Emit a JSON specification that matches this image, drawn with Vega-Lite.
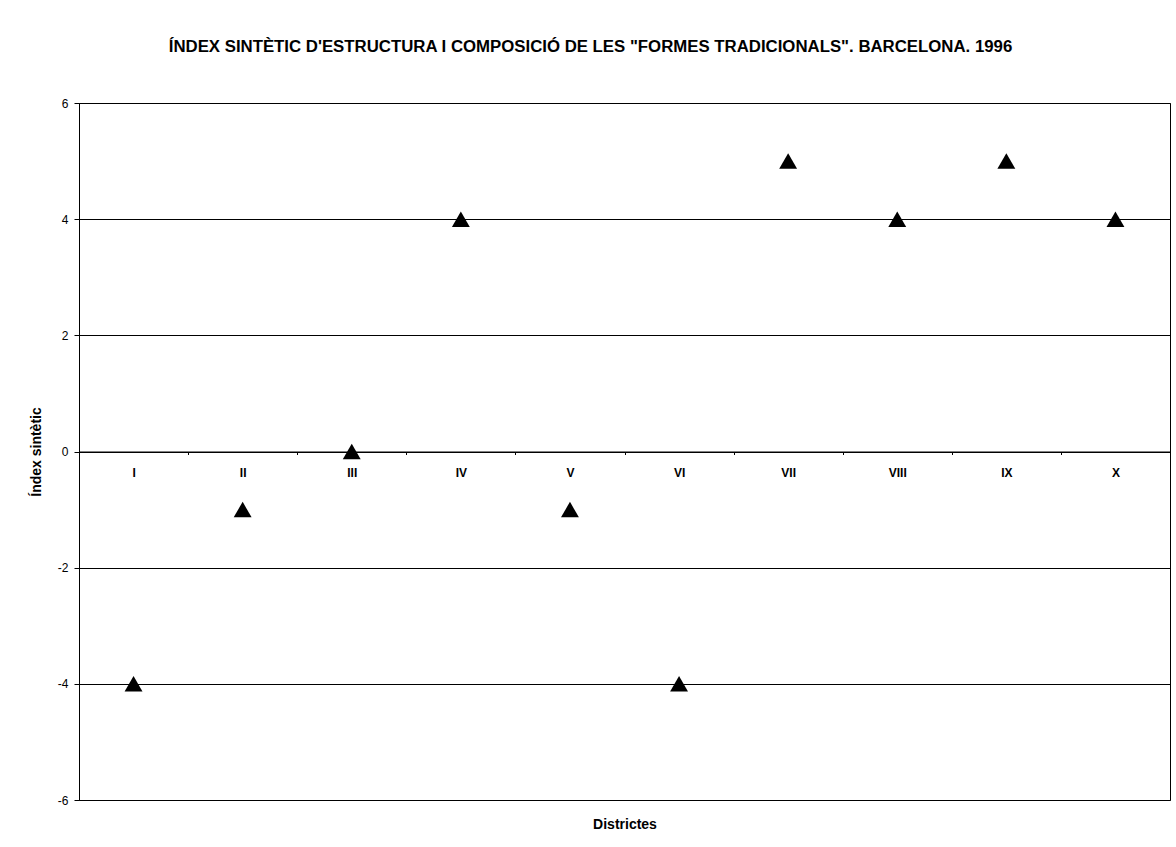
{
  "$schema": "https://vega.github.io/schema/vega-lite/v6.json",
  "autosize": {"type": "none"},
  "padding": {"left": 79, "top": 103, "right": 5, "bottom": 47},
  "width": 1091,
  "height": 697,
  "background": "white",
  "title": {
    "text": "ÍNDEX SINTÈTIC D'ESTRUCTURA I COMPOSICIÓ DE LES \"FORMES TRADICIONALS\". BARCELONA. 1996",
    "font": "Liberation Sans",
    "fontSize": 16.8,
    "fontWeight": "bold",
    "color": "black",
    "anchor": "middle",
    "frame": "group",
    "dx": -34,
    "offset": 41
  },
  "config": {
    "view": {"stroke": "black", "strokeWidth": 1},
    "axis": {"labelFont": "Liberation Sans", "titleFont": "Liberation Sans"}
  },
  "data": {
    "values": [
      {"district": "I", "index": -4},
      {"district": "II", "index": -1},
      {"district": "III", "index": 0},
      {"district": "IV", "index": 4},
      {"district": "V", "index": -1},
      {"district": "VI", "index": -4},
      {"district": "VII", "index": 5},
      {"district": "VIII", "index": 4},
      {"district": "IX", "index": 5},
      {"district": "X", "index": 4}
    ]
  },
  "mark": {"type": "point", "shape": "triangle-up", "filled": true, "color": "black", "opacity": 1, "size": 320},
  "encoding": {
    "x": {
      "field": "district",
      "type": "nominal",
      "sort": null,
      "scale": {"paddingInner": 0, "paddingOuter": 0},
      "axis": {
        "title": "Districtes",
        "titleFontSize": 14,
        "titleFontWeight": "bold",
        "titleColor": "black",
        "titleY": 372.5,
        "titleBaseline": "middle",
        "offset": -348.5,
        "labelAngle": 0,
        "labelFontSize": 12,
        "labelFontWeight": "bold",
        "labelColor": "black",
        "labelBaseline": "middle",
        "labelPadding": 18,
        "tickSize": 3,
        "tickColor": "black",
        "tickBand": "extent",
        "domainColor": "black",
        "grid": false
      }
    },
    "y": {
      "field": "index",
      "type": "quantitative",
      "scale": {"domain": [-6, 6], "nice": false, "zero": false},
      "axis": {
        "title": "Índex sintètic",
        "titleFontSize": 14,
        "titleFontWeight": "bold",
        "titleColor": "black",
        "titleX": -43,
        "titleY": 348.5,
        "titleAngle": -90,
        "titleBaseline": "middle",
        "titleAlign": "center",
        "values": [-6, -4, -2, 0, 2, 4, 6],
        "labelExpr": "'' + datum.value",
        "labelFontSize": 12,
        "labelColor": "black",
        "labelPadding": 6,
        "tickSize": 5,
        "tickColor": "black",
        "domainColor": "black",
        "grid": true,
        "gridColor": "black",
        "gridOpacity": 1,
        "gridWidth": 1
      }
    }
  }
}
